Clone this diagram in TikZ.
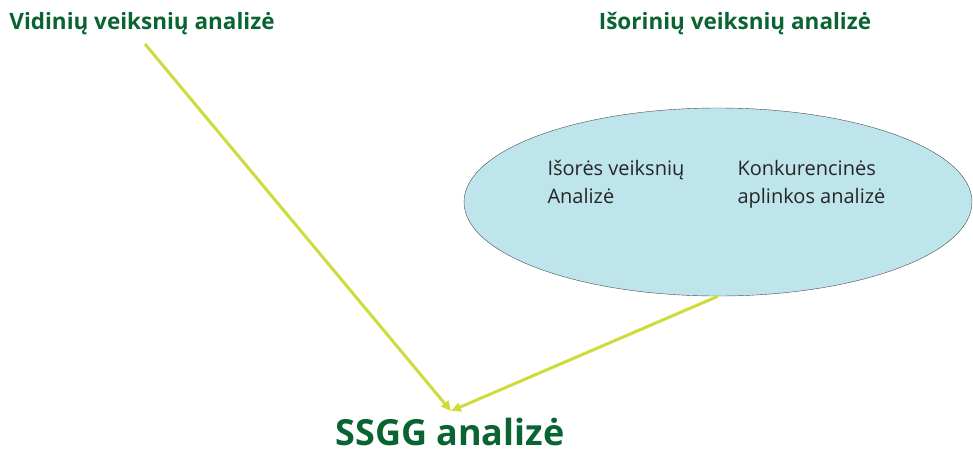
\documentclass[tikz,border=0pt]{standalone}
\usepackage{fontspec}
\setmainfont{Open Sans}
\usetikzlibrary{shapes.geometric,arrows.meta}
\definecolor{titlegreen}{RGB}{10,100,50}
\definecolor{arrowyellow}{RGB}{205,220,60}
\definecolor{ovalblue}{RGB}{190,228,236}
\begin{document}
\begin{tikzpicture}[x=1pt,y=-1pt,
	title/.style = {text = titlegreen, font = \bfseries\fontsize{22.5}{26}\selectfont},
	inner/.style = {align = left, font = \fontsize{20}{28}\selectfont, text = black!85},
	link/.style = {arrowyellow, line width = 3pt, -{Triangle[length=10pt,width=9pt]}}]
	\useasboundingbox (0,0) rectangle (973,459);
	\node[title] (inside) at (142,24) {Vidinių veiksnių analizė};
	\node[title] (outside) at (735,24) {Išorinių veiksnių analizė};
	\node[ellipse, draw = black!70, fill = ovalblue, minimum width = 508pt, minimum height = 188pt] (oval) at (718,202) {};
	\node[inner, anchor = north west] (pest) at (544,157) {Išorės veiksnių\\Analizė};
	\node[inner, anchor = north west] (comp) at (734,157) {Konkurencinės\\aplinkos analizė};
	\node[text = titlegreen, font = \bfseries\fontsize{36}{40}\selectfont] (swot) at (450,432) {SSGG analizė};

	\coordinate (start) at (145,44);
	\coordinate (meet) at (451,411);
	\draw[link] (start) -- (meet);
	\draw[link] (oval.south) -- (meet);
\end{tikzpicture}
\end{document}
